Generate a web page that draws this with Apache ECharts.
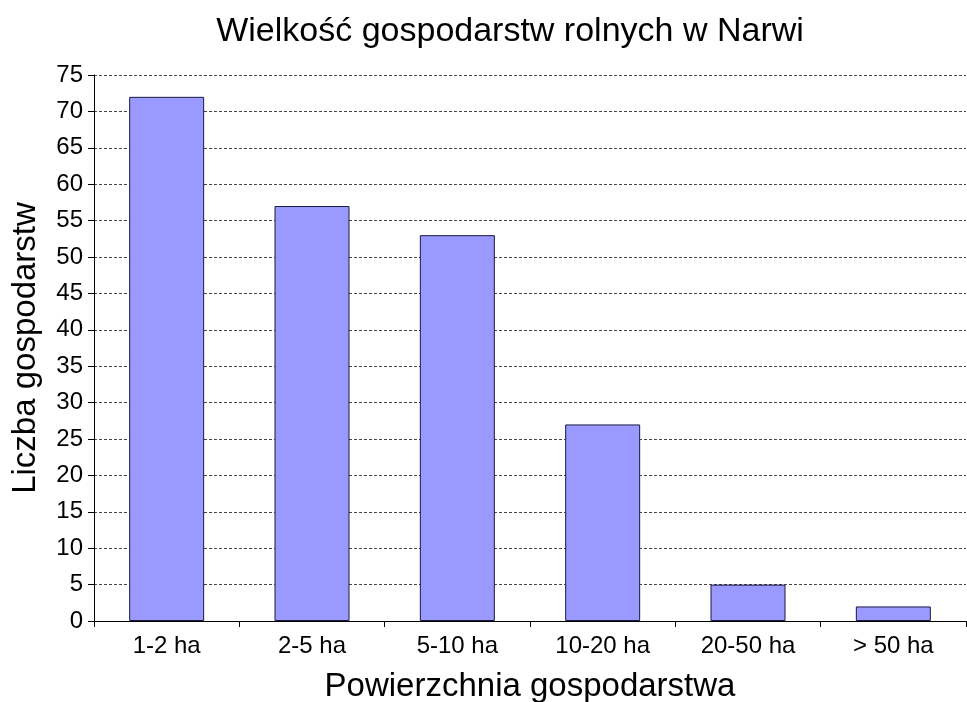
<!DOCTYPE html>
<html>
<head>
<meta charset="utf-8">
<script src="https://cdn.jsdelivr.net/npm/echarts@6/dist/echarts.min.js"></script>
<style>html,body{margin:0;padding:0;background:#fff}#c{width:967px;height:702px}</style>
</head>
<body>
<div id="c"></div>
<script>
const categories = ['1-2 ha', '2-5 ha', '5-10 ha', '10-20 ha', '20-50 ha', '> 50 ha'];
const values = [72, 57, 53, 27, 5, 2];
const titleText = 'Wielkość gospodarstw rolnych w Narwi';
const xName = 'Powierzchnia gospodarstwa';
const yName = 'Liczba gospodarstw';

const chart = echarts.init(document.getElementById('c'));
const F = 'Liberation Sans, Arial, sans-serif';
chart.setOption({
  animation: false,
  textStyle: { fontFamily: F },
  title: {
    text: titleText, left: 505, top: 10, textAlign: 'center',
    textStyle: { fontFamily: F, fontSize: 34, fontWeight: 'normal', color: '#000' }
  },
  grid: { left: 94, right: 1, top: 75, bottom: 81, containLabel: false, outerBoundsMode: 'none' },
  xAxis: {
    type: 'category', data: categories,
    name: xName, nameLocation: 'middle', nameGap: 49,
    nameTextStyle: { fontFamily: F, fontSize: 33, color: '#000' },
    axisLine: { lineStyle: { color: '#000', width: 1 } },
    axisTick: { show: true, alignWithLabel: false, length: 6, lineStyle: { color: '#000' } },
    axisLabel: { fontFamily: F, fontSize: 24, color: '#000', margin: 13 }
  },
  yAxis: {
    type: 'value', min: 0, max: 75, interval: 5,
    name: yName, nameLocation: 'middle', nameGap: 52,
    nameTextStyle: { fontFamily: F, fontSize: 33, color: '#000' },
    axisLine: { show: true, lineStyle: { color: '#000', width: 1 } },
    axisTick: { show: true, length: 6, lineStyle: { color: '#000' } },
    axisLabel: { fontFamily: F, fontSize: 24, color: '#000', margin: 11 },
    splitLine: { show: true, lineStyle: { color: '#444', type: [3, 2], width: 1 } }
  },
  series: [{
    type: 'bar', data: values, barWidth: 75,
    itemStyle: { color: '#9999FF', borderColor: '#1a1a40', borderWidth: 1 }
  }]
});
</script>
</body>
</html>
